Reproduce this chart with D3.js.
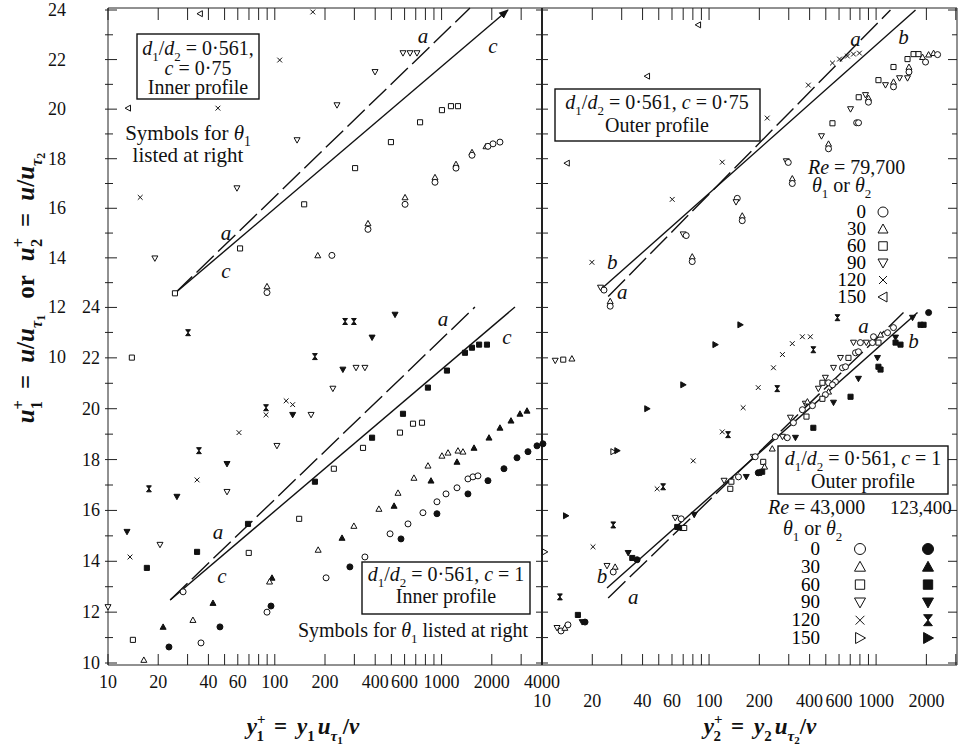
<!DOCTYPE html>
<html>
<head>
<meta charset="utf-8">
<script src="https://cdn.jsdelivr.net/npm/d3@7"></script>
<style>
body { margin: 0; background: #fff; }
svg { display: block; }
</style>
</head>
<body>
<svg id="chart"></svg>
<script>
// kinds: o circle, t up-triangle, s square, v down-triangle, x cross, l left-triangle, r right-triangle,
// h hourglass (filled); upper case = filled symbol
const innerC075Points = [
	['l', 13.2, 20.04], ['x', 107, 21.98], ['x', 45.6, 20.04], ['v', 136, 18.75], ['v', 59.3, 16.81],
	['x', 15.6, 16.44], ['v', 19.1, 13.98], ['s', 61.9, 14.38], ['s', 25.2, 12.57],
	['t', 89.8, 12.85], ['o', 89.8, 12.6], ['l', 35.6, 23.85], ['x', 169, 23.92],
	['v', 587, 22.26], ['v', 647, 22.26], ['v', 712, 22.26], ['v', 399, 21.5], ['v', 236, 20.16],
	['s', 1005, 19.96], ['s', 1138, 20.12], ['s', 1254, 20.12], ['s', 743, 19.47], ['s', 497, 18.67],
	['s', 303, 17.62], ['s', 150, 16.16],
	['t', 913, 17.25], ['o', 913, 17.05], ['t', 1220, 17.78], ['o', 1220, 17.62],
	['t', 1522, 18.26], ['o', 1522, 18.14], ['t', 1846, 18.5], ['o', 1897, 18.5], ['o', 2034, 18.6],
	['o', 2239, 18.67], ['t', 604, 16.44], ['o', 604, 16.16], ['t', 362, 15.39], ['o', 362, 15.15],
	['t', 181, 14.1], ['o', 220, 14.1]
];

const innerC1Points = [
	['h', 30.2, 22.99], ['s', 13.9, 22.01], ['h', 88.6, 20.04], ['x', 88.6, 19.76], ['x', 117, 20.31],
	['x', 128, 20.16], ['V', 128, 19.76], ['x', 61, 19.06], ['v', 103, 18.54], ['h', 35.1, 18.35],
	['V', 51.7, 17.83], ['x', 34.2, 17.2], ['h', 17.6, 16.85], ['V', 25.9, 16.54], ['v', 51.7, 16.73],
	['V', 13.0, 15.16], ['x', 13.55, 14.17], ['v', 20.5, 14.65], ['S', 17.1, 13.74], ['S', 34.2, 14.37],
	['S', 69.1, 15.47], ['s', 69.8, 14.33], ['o', 28.2, 12.8], ['T', 96.2, 13.35], ['t', 93, 13.2],
	['O', 94.9, 12.24], ['o', 89.8, 12.0], ['T', 42.6, 12.36], ['T', 21.4, 11.42], ['t', 32.3, 11.69],
	['O', 46.9, 11.42], ['O', 23.2, 10.63], ['o', 36.1, 10.79], ['s', 14.1, 10.91], ['t', 16.4, 10.12],
	['v', 10.0, 12.2], ['s', 140, 15.67],
	['h', 264, 23.43], ['h', 298, 23.43], ['V', 526, 23.7], ['V', 383, 22.8], ['h', 174, 22.05],
	['V', 256, 21.54], ['v', 307, 21.61], ['v', 347, 21.61], ['v', 223, 20.79], ['v', 165, 19.76],
	['S', 174, 17.13], ['S', 383, 18.86], ['S', 587, 19.8], ['S', 828, 20.83], ['S', 1077, 21.5],
	['S', 1381, 22.2], ['S', 1521, 22.4], ['S', 1679, 22.52], ['S', 1871, 22.52],
	['s', 338, 18.46], ['s', 226, 17.64], ['s', 563, 19.06], ['s', 674, 19.41], ['s', 763, 19.45],
	['t', 182, 14.45], ['t', 298, 15.39], ['t', 421, 16.06], ['t', 548, 16.69], ['t', 683, 17.28],
	['t', 829, 17.76], ['t', 1005, 18.15], ['t', 1093, 18.27], ['t', 1254, 18.35], ['t', 1343, 18.31],
	['T', 253, 14.92], ['T', 519, 16.18], ['T', 864, 17.17], ['T', 1237, 17.91], ['T', 1565, 18.46],
	['T', 1924, 18.86], ['T', 2239, 19.25], ['T', 2607, 19.53], ['T', 2951, 19.8], ['T', 3252, 19.92],
	['o', 203, 13.35], ['o', 347, 14.17], ['o', 491, 15.08], ['o', 629, 15.47], ['o', 773, 15.91],
	['o', 938, 16.34], ['o', 1063, 16.65], ['o', 1237, 16.89], ['o', 1439, 17.24], ['o', 1542, 17.32],
	['o', 1652, 17.36],
	['O', 282, 13.78], ['O', 571, 14.88], ['O', 938, 15.87], ['O', 1439, 16.65], ['O', 1897, 17.17],
	['O', 2366, 17.64], ['O', 2832, 18.07], ['O', 3296, 18.31], ['O', 3733, 18.54], ['O', 4052, 18.62]
];

const outerC075Points = [
	['l', 42.6, 21.33], ['l', 14.1, 17.82], ['x', 120, 17.86], ['x', 60.2, 16.36], ['x', 19.9, 13.82],
	['o', 147.6, 16.4], ['v', 145, 16.25], ['t', 158, 15.7], ['o', 158, 15.5], ['v', 70, 14.95],
	['o', 73, 14.9], ['t', 79.3, 14.05], ['o', 79.3, 13.85], ['v', 22.4, 12.8], ['o', 23.5, 12.7],
	['t', 25.6, 12.25], ['o', 25.6, 12.05], ['l', 86.1, 23.4], ['x', 223, 19.64], ['x', 393, 20.97],
	['x', 548, 21.86], ['x', 604, 22.02], ['x', 674, 22.14], ['x', 732, 22.22], ['x', 795, 22.26],
	['v', 290, 17.9], ['o', 298, 17.85], ['t', 315, 17.2], ['o', 315, 17.0], ['v', 471, 18.91],
	['t', 519, 18.6], ['o', 519, 18.4], ['s', 548, 19.43], ['o', 765, 19.45], ['o', 785, 19.45],
	['v', 703, 20.0], ['s', 787, 20.48], ['v', 864, 20.57], ['t', 900, 20.45], ['o', 900, 20.28],
	['s', 1033, 21.17], ['v', 1138, 20.97], ['t', 1271, 21.1], ['o', 1271, 20.9], ['v', 1381, 21.25],
	['v', 1542, 21.25], ['s', 1271, 21.7], ['t', 1573, 21.7], ['o', 1573, 21.5], ['s', 1542, 22.02],
	['s', 1676, 22.22], ['s', 1795, 22.22], ['t', 1897, 22.1], ['o', 1977, 21.9], ['t', 2062, 22.2],
	['t', 2208, 22.26], ['o', 2334, 22.2]
];

const outerC1Points = [
	['v', 12.0, 21.89], ['s', 13.4, 21.93], ['t', 15.1, 21.97], ['R', 153.8, 23.3], ['R', 109, 22.52],
	['R', 70, 20.94], ['R', 42.6, 20.0], ['r', 26.7, 18.31], ['R', 28.2, 18.35], ['R', 13.9, 15.79],
	['r', 10.4, 14.37], ['x', 160, 20.04], ['x', 197, 20.83], ['x', 120, 19.09], ['h', 130, 18.98],
	['x', 80.4, 17.95], ['x', 48.9, 16.85], ['h', 53.1, 16.93], ['h', 26.7, 15.43], ['x', 20.2, 14.57],
	['h', 12.8, 12.6], ['S', 16.4, 11.89], ['V', 17.4, 11.61], ['O', 18.1, 11.61], ['v', 12.3, 11.38],
	['o', 13.0, 11.26], ['t', 13.7, 11.38], ['o', 14.3, 11.5], ['V', 32.8, 14.33], ['S', 34.7, 14.13],
	['O', 37.1, 14.06], ['v', 24.5, 13.82], ['t', 27.4, 13.78], ['o', 26.7, 13.58], ['v', 62.7, 15.71],
	['o', 68.1, 15.67], ['S', 64.5, 15.35], ['S', 69.1, 15.31], ['s', 71, 15.31], ['V', 81.5, 15.83],
	['v', 123, 17.17], ['s', 136, 17.13], ['s', 134, 16.85], ['o', 150, 17.32], ['V', 167, 17.32],
	['v', 184, 18.11], ['O', 197, 17.48],
	['h', 587, 23.58], ['x', 362, 22.83], ['x', 404, 22.83], ['x', 315, 22.56], ['h', 421, 22.32],
	['x', 275, 22.13], ['x', 243, 21.61], ['h', 256, 20.79],
	['v', 497, 21.22], ['v', 451, 20.79], ['v', 556, 21.61], ['o', 629, 21.61], ['o', 656, 21.65],
	['v', 612, 22.0], ['s', 683, 22.0], ['o', 753, 22.2], ['o', 784, 22.24], ['v', 732, 22.6],
	['o', 805, 22.6], ['v', 874, 22.6], ['o', 951, 22.6], ['s', 1033, 22.6], ['o', 965, 22.83],
	['t', 1063, 22.91], ['o', 1171, 22.99], ['o', 1271, 23.19], ['s', 477, 21.02], ['o', 519, 21.02],
	['o', 571, 21.06], ['o', 548, 20.94], ['t', 519, 20.67], ['o', 497, 20.55], ['v', 377, 20.2],
	['t', 388, 20.28], ['o', 416, 20.12], ['s', 477, 20.39], ['o', 362, 19.96], ['s', 383, 19.69],
	['v', 307, 19.65], ['o', 320, 19.45], ['o', 249, 18.9], ['v', 275, 18.9], ['o', 294, 18.86],
	['V', 329, 18.86], ['t', 239, 18.43], ['o', 189, 18.11], ['s', 211, 17.91], ['t', 215, 17.72],
	['S', 208, 17.52], ['S', 200, 17.48], ['S', 421, 19.25], ['S', 703, 20.47], ['V', 556, 20.24],
	['V', 784, 21.18], ['S', 1033, 21.65], ['S', 1063, 21.54], ['V', 1019, 22.0], ['S', 1307, 22.6],
	['S', 1400, 22.52], ['V', 1307, 22.8], ['V', 1652, 23.58], ['S', 1846, 23.3], ['S', 1924, 23.3],
	['O', 2062, 23.78]
];

// log-law reference lines, [y+, u+] end points
const innerC075LineA = [[25.2, 12.57], [1480, 24.08]];
const innerC075LineC = [[25.2, 12.57], [2500, 24.0]];
const innerC1LineA = [[23.6, 12.48], [1585, 24.0]];
const innerC1LineC = [[23.6, 12.48], [2754, 24.0]];
const outerC075LineA = [[24.9, 12.44], [1219, 24.0]];
const outerC075LineB = [[22.9, 12.77], [1722, 24.0]];
const outerC1LineA = [[24.9, 12.56], [1459, 23.78]];
const outerC1LineB = [[24.5, 12.95], [1770, 23.78]];

const xTickLabelsLeft = [10, 20, 40, 60, 100, 200, 400, 600, 1000, 2000, 4000];
const xTickLabelsRight = [10, 20, 40, 60, 100, 200, 400, 600, 1000, 2000];
const yTickLabels = [10, 12, 14, 16, 18, 20, 22, 24];
const thetaLabels = ['0', '30', '60', '90', '120', '150'];
const legendUpperKinds = ['o', 't', 's', 'v', 'x', 'l'];
const legendOpenKinds = ['o', 't', 's', 'v', 'x', 'r'];
const legendFilledKinds = ['O', 'T', 'S', 'V', 'h', 'R'];

const FONT = "'Liberation Serif','DejaVu Serif','Times New Roman',serif";
const width = 959, height = 747;
const pL = 108, pM = 542, pR = 957, pT = 8, pB = 665;

let svg = d3.select("#chart").attr("width", width).attr("height", height)
	.style("font-family", FONT);
svg.append("rect").attr("width", width).attr("height", height).attr("fill", "white");

const xLeft = d3.scaleLog().domain([10, 4000]).range([pL, pM]);
const xRight = d3.scaleLog().domain([10, 3050]).range([pM, pR]);
const yUpper = d3.scaleLinear().domain([10, 24]).range([357, 10]);
const yLower = d3.scaleLinear().domain([10, 24]).range([663, 307]);

function markerPath(kind, r) {
	switch (kind.toLowerCase()) {
		case 'o': return `M${r},0A${r},${r} 0 1,1 ${-r},0A${r},${r} 0 1,1 ${r},0Z`;
		case 't': return `M0,${-r}L${r},${r * 0.8}L${-r},${r * 0.8}Z`;
		case 'v': return `M0,${r}L${r},${-r * 0.8}L${-r},${-r * 0.8}Z`;
		case 'l': return `M${-r},0L${r * 0.8},${-r}L${r * 0.8},${r}Z`;
		case 'r': return `M${r},0L${-r * 0.8},${-r}L${-r * 0.8},${r}Z`;
		case 's': return `M${-r * 0.85},${-r * 0.85}h${1.7 * r}v${1.7 * r}h${-1.7 * r}Z`;
		case 'x': return `M${-r * 0.8},${-r * 0.8}L${r * 0.8},${r * 0.8}M${r * 0.8},${-r * 0.8}L${-r * 0.8},${r * 0.8}`;
		case 'h': return `M${-r * 0.8},${-r}L${r * 0.8},${-r}L${-r * 0.8},${r}L${r * 0.8},${r}Z`;
	}
}
const isFilled = k => k === 'h' || (k !== k.toLowerCase());

function drawMarkers(g, pts, x, y, r) {
	g.selectAll(null)
		.data(pts)
		.enter()
		.append("path")
		.attr("transform", d => `translate(${x(d[1])},${y(d[2])})`)
		.attr("d", d => markerPath(d[0], r))
		.attr("fill", d => d[0] === 'x' ? "none" : (isFilled(d[0]) ? "#111" : "white"))
		.attr("stroke", "#111")
		.attr("stroke-width", 1);
}

// rich text: parts = [text, kind, dx]
function rich(sel, x, y, parts, size, anchor) {
	let t = sel.append("text").attr("x", x).attr("y", y).attr("font-size", size)
		.attr("text-anchor", anchor || "start").attr("fill", "#111");
	let base = 0;
	parts.forEach(([s, kind, dx]) => {
		let off = 0, fs = size, it = false;
		if (kind === 'i') it = true;
		if (kind === 'sub' || kind === 'isub') { off = size * 0.3; fs = size * 0.65; it = kind === 'isub'; }
		if (kind === 'sup') { off = -size * 0.42; fs = size * 0.65; }
		if (kind === 'subsub') { off = size * 0.45; fs = size * 0.48; }
		let ts = t.append("tspan").attr("dy", off - base).attr("font-size", fs).text(s);
		if (it) ts.attr("font-style", "italic");
		if (dx) ts.attr("dx", dx);
		base = off;
	});
	return t;
}

// frame
let frame = svg.append("g").attr("stroke", "#222").attr("fill", "none");
frame.append("line").attr("x1", pL).attr("x2", pL).attr("y1", pT).attr("y2", pB).attr("stroke-width", 1);
frame.append("line").attr("x1", pL).attr("x2", pR).attr("y1", pB).attr("y2", pB).attr("stroke-width", 1);
frame.append("line").attr("x1", pL).attr("x2", pR).attr("y1", pT).attr("y2", pT).attr("stroke-width", 1);
frame.append("line").attr("x1", pR).attr("x2", pR).attr("y1", pT).attr("y2", pB).attr("stroke-width", 1);
frame.append("line").attr("x1", pM).attr("x2", pM).attr("y1", pT).attr("y2", pB).attr("stroke-width", 2);

function logTicks(lo, hi) {
	let out = [];
	for (let d = 10; d <= hi; d *= 10)
		for (let m = 1; m < 10; m++) { let v = d * m; if (v >= lo && v <= hi) out.push(v); }
	return out;
}
[[xLeft, 4000], [xRight, 3000]].forEach(([sc, hi]) => {
	logTicks(10, hi).forEach(v => {
		let px = sc(v);
		frame.append("line").attr("x1", px).attr("x2", px).attr("y1", pB).attr("y2", pB - 11);
		frame.append("line").attr("x1", px).attr("x2", px).attr("y1", pT).attr("y2", pT + 12);
	});
});
d3.range(12, 25).forEach(u => {
	let py = yUpper(u), len = u % 2 ? 5 : 9;
	frame.append("line").attr("x1", pL - 3).attr("x2", pL + len).attr("y1", py).attr("y2", py);
	frame.append("line").attr("x1", pM - 6).attr("x2", pM + 6).attr("y1", py).attr("y2", py);
	frame.append("line").attr("x1", pR - len).attr("x2", pR).attr("y1", py).attr("y2", py);
});
d3.range(10, 24).forEach(u => {
	let py = yLower(u), len = u % 2 ? 5 : 9;
	frame.append("line").attr("x1", pL - 3).attr("x2", pL + len).attr("y1", py).attr("y2", py);
	frame.append("line").attr("x1", pM - 6).attr("x2", pM + 6).attr("y1", py).attr("y2", py);
	frame.append("line").attr("x1", pR - len).attr("x2", pR).attr("y1", py).attr("y2", py);
});

// tick labels
let labels = svg.append("g").attr("font-size", 18).attr("fill", "#111");
yTickLabels.forEach(v => {
	labels.append("text").attr("x", 66).attr("y", yUpper(v) + 6).attr("text-anchor", "end").text(v);
	labels.append("text").attr("x", 100).attr("y", yLower(v) + 6).attr("text-anchor", "end").text(v);
});
xTickLabelsLeft.forEach(v => {
	labels.append("text").attr("x", xLeft(v)).attr("y", 688).attr("text-anchor", "middle").text(v);
});
xTickLabelsRight.forEach(v => {
	labels.append("text").attr("x", xRight(v)).attr("y", 707).attr("text-anchor", "middle").text(v);
});

// reference lines
svg.append("defs").append("marker").attr("id", "arrow").attr("viewBox", "0 0 10 10")
	.attr("refX", 9).attr("refY", 5).attr("markerWidth", 7).attr("markerHeight", 7).attr("orient", "auto")
	.append("path").attr("d", "M0,1L10,5L0,9Z").attr("fill", "#111");

const panels = [
	{ pts: innerC075Points, x: xLeft, y: yUpper, dashed: innerC075LineA, solid: innerC075LineC, arrow: true },
	{ pts: innerC1Points, x: xLeft, y: yLower, dashed: innerC1LineA, solid: innerC1LineC },
	{ pts: outerC075Points, x: xRight, y: yUpper, dashed: outerC075LineA, solid: outerC075LineB },
	{ pts: outerC1Points, x: xRight, y: yLower, dashed: outerC1LineA, solid: outerC1LineB }
];
panels.forEach(p => {
	let line = d3.line().x(d => p.x(d[0])).y(d => p.y(d[1]));
	svg.append("path").attr("d", line(p.dashed)).attr("fill", "none").attr("stroke", "#111")
		.attr("stroke-width", 1.4).attr("stroke-dasharray", "24,6");
	let s = svg.append("path").attr("d", line(p.solid)).attr("fill", "none").attr("stroke", "#111")
		.attr("stroke-width", 1.4);
	if (p.arrow) s.attr("marker-end", "url(#arrow)");
	drawMarkers(svg.append("g"), p.pts, p.x, p.y, 3);
});

// line names
const lineNames = [
	['a', xLeft, yUpper, 51, 14.95], ['c', xLeft, yUpper, 51, 13.41], ['a', xLeft, yUpper, 774, 22.9], ['c', xLeft, yUpper, 2032, 22.5],
	['a', xLeft, yLower, 45.6, 15.12], ['c', xLeft, yLower, 48.2, 13.39], ['a', xLeft, yLower, 1019, 23.5], ['c', xLeft, yLower, 2466, 22.8],
	['b', xRight, yUpper, 26.3, 13.78], ['a', xRight, yUpper, 30.2, 12.57], ['a', xRight, yUpper, 753, 22.79], ['b', xRight, yUpper, 1459, 22.87],
	['b', xRight, yLower, 22.9, 13.39], ['a', xRight, yLower, 35.2, 12.56], ['a', xRight, yLower, 840, 23.23], ['b', xRight, yLower, 1675, 22.64]
];
svg.append("g").selectAll(null).data(lineNames).enter().append("text")
	.attr("x", d => d[1](d[3])).attr("y", d => d[2](d[4]) + 6)
	.attr("text-anchor", "middle").attr("font-size", 21).attr("font-style", "italic").attr("fill", "#111")
	.text(d => d[0]);

// boxes
function box(x, y, w, h) {
	svg.append("rect").attr("x", x).attr("y", y).attr("width", w).attr("height", h)
		.attr("fill", "white").attr("stroke", "#111").attr("stroke-width", 1.4);
}
const ratio = [['d', 'i'], ['1', 'sub'], ['/', 'n'], ['d', 'i'], ['2', 'sub'], [' = 0·561, ', 'n']];
box(137, 34, 122, 65);
rich(svg, 198, 55, ratio.slice(0, 5).concat([[' = 0·561,', 'n']]), 20, "middle");
rich(svg, 198, 75, [['c', 'i'], [' = 0·75', 'n']], 20, "middle");
rich(svg, 198, 94, [['Inner profile', 'n']], 20, "middle");
rich(svg, 188, 140, [['Symbols for ', 'n'], ['θ', 'i'], ['1', 'sub']], 21, "middle");
rich(svg, 188, 162, [['listed at right', 'n']], 21, "middle");

box(362, 562, 168, 52);
rich(svg, 446, 581, ratio.concat([['c', 'i'], [' = 1', 'n']]), 20, "middle");
rich(svg, 446, 603, [['Inner profile', 'n']], 20, "middle");
rich(svg, 413, 637, [['Symbols for ', 'n'], ['θ', 'i'], ['1', 'sub'], [' listed at right', 'n']], 20, "middle");

box(555, 89, 205, 52);
rich(svg, 657, 109, ratio.concat([['c', 'i'], [' = 0·75', 'n']]), 20, "middle");
rich(svg, 657, 132, [['Outer profile', 'n']], 20, "middle");

box(778, 446, 170, 48);
rich(svg, 863, 465, ratio.concat([['c', 'i'], [' = 1', 'n']]), 20, "middle");
rich(svg, 863, 488, [['Outer profile', 'n']], 20, "middle");

// legends
rich(svg, 808, 174, [['Re', 'i'], [' = 79,700', 'n']], 20);
rich(svg, 812, 192, [['θ', 'i'], ['1', 'sub'], [' or ', 'n'], ['θ', 'i'], ['2', 'sub']], 20);
thetaLabels.forEach((t, i) => {
	let cy = 212 + i * 17;
	svg.append("text").attr("x", 866).attr("y", cy + 6).attr("text-anchor", "end").attr("font-size", 19).text(t);
});
drawMarkers(svg.append("g"), legendUpperKinds.map((k, i) => [k, i, i]),
	() => 883, i => 212 + i * 17, 5);

rich(svg, 768, 514, [['Re', 'i'], [' = 43,000', 'n']], 20);
rich(svg, 890, 514, [['123,400', 'n']], 19);
rich(svg, 783, 535, [['θ', 'i'], ['1', 'sub'], [' or ', 'n'], ['θ', 'i'], ['2', 'sub']], 20);
thetaLabels.forEach((t, i) => {
	let cy = 549 + i * 17.8;
	svg.append("text").attr("x", 820).attr("y", cy + 6).attr("text-anchor", "end").attr("font-size", 19).text(t);
});
drawMarkers(svg.append("g"), legendOpenKinds.map((k, i) => [k, i, i]),
	() => 860, i => 549 + i * 17.8, 5.5);
drawMarkers(svg.append("g"), legendFilledKinds.map((k, i) => [k, i, i]),
	() => 928, i => 549 + i * 17.8, 5.5);

// axis titles
function xTitle(cx, n) {
	rich(svg, cx, 734, [['y', 'i'], ['+', 'sup'], [n, 'sub', -9], ['=', 'n', 10], ['y', 'i', 10], [n, 'sub'],
		['u', 'i', 3], ['τ', 'isub'], [n, 'subsub'], ['/', 'n'], ['ν', 'i']], 23, "middle").attr("font-weight", "bold");
}
xTitle(303, '1');
xTitle(760, '2');
let yg = svg.append("g").attr("transform", "translate(34,288) rotate(-90)");
rich(yg, 0, 0, [['u', 'i'], ['+', 'sup'], ['1', 'sub', -9], ['=', 'n', 12], ['u', 'i', 12], ['/', 'n'], ['u', 'i'],
	['τ', 'isub'], ['1', 'subsub'], ['or', 'n', 16], ['u', 'i', 14], ['+', 'sup'], ['2', 'sub', -9], ['=', 'n', 12],
	['u', 'i', 12], ['/', 'n'], ['u', 'i'], ['τ', 'isub'], ['2', 'subsub']], 25, "middle").attr("font-weight", "bold");
</script>
</body>
</html>
